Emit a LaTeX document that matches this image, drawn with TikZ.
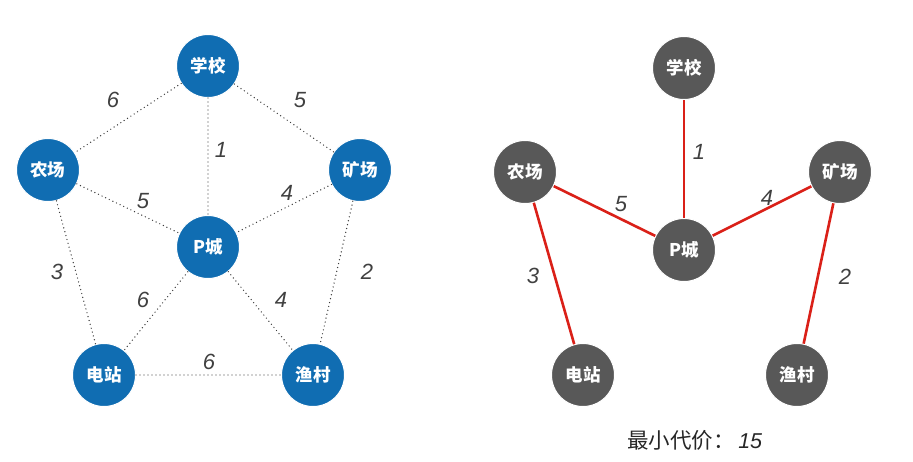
\documentclass[tikz,border=0pt]{standalone}
\usepackage{fontspec}
\setmainfont{Liberation Sans}
\newfontfamily\cjk{Noto Sans CJK SC}
\definecolor{nblue}{RGB}{16,109,178}
\definecolor{ngray}{RGB}{88,88,88}
\definecolor{ered}{RGB}{218,32,24}
\definecolor{edot}{RGB}{60,60,60}
\begin{document}
\begin{tikzpicture}[x=1pt,y=-1pt,
  bnode/.style={circle,fill=nblue,draw=white,line width=1pt,minimum size=63pt,inner sep=0pt,text=white,font=\cjk\bfseries\fontsize{17.5}{17.5}\selectfont},
  gnode/.style={circle,fill=ngray,draw=white,line width=1pt,minimum size=63pt,inner sep=0pt,text=white,font=\cjk\bfseries\fontsize{17.5}{17.5}\selectfont},
  dotedge/.style={draw=edot,line width=1.4pt,line cap=round,dash pattern=on 0pt off 4pt},
  redge/.style={draw=ered,line width=2.6pt},
  wlabel/.style={font=\itshape\fontsize{22}{22}\selectfont,text=black!75}]
\useasboundingbox (0,0) rectangle (913,461);
% left graph nodes
\node[bnode] (s) at (208,66) {学校};
\node[bnode] (f) at (48,170) {农场};
\node[bnode] (m) at (360,170) {矿场};
\node[bnode] (p) at (208,247) {P城};
\node[bnode] (d) at (104,375) {电站};
\node[bnode] (y) at (313,375) {渔村};
% left edges
\draw[dotedge] (s) -- (f);
\draw[dotedge] (s) -- (m);
\draw[dotedge] (s) -- (p);
\draw[dotedge] (f) -- (p);
\draw[dotedge] (m) -- (p);
\draw[dotedge] (f) -- (d);
\draw[dotedge] (m) -- (y);
\draw[dotedge] (p) -- (d);
\draw[dotedge] (p) -- (y);
\draw[dotedge] (d) -- (y);
% left labels
\node[wlabel] (l1) at (113,100) {6};
\node[wlabel] (l2) at (300,100) {5};
\node[wlabel] (l3) at (221,150) {1};
\node[wlabel] (l4) at (143,201) {5};
\node[wlabel] (l5) at (287,193) {4};
\node[wlabel] (l6) at (57,272) {3};
\node[wlabel] (l7) at (367,272) {2};
\node[wlabel] (l8) at (143,300) {6};
\node[wlabel] (l9) at (281,300) {4};
\node[wlabel] (l10) at (209,362) {6};
% right graph nodes
\node[gnode] (S) at (684,68) {学校};
\node[gnode] (F) at (525,172) {农场};
\node[gnode] (M) at (840,172) {矿场};
\node[gnode] (P) at (684,250) {P城};
\node[gnode] (D) at (583,375) {电站};
\node[gnode] (Y) at (797,375) {渔村};
\draw[redge] (S) -- (P);
\draw[redge] (F) -- (P);
\draw[redge] (M) -- (P);
\draw[redge] (F) -- (D);
\draw[redge] (M) -- (Y);
\node[wlabel] (r1) at (699,152) {1};
\node[wlabel] (r2) at (621,204) {5};
\node[wlabel] (r3) at (767,198) {4};
\node[wlabel] (r4) at (533,276) {3};
\node[wlabel] (r5) at (845,277) {2};
\node[anchor=west,text=black!85,inner sep=0pt] (cost) at (627,440) {\cjk\fontsize{21.5}{21.5}\selectfont 最小代价：\,{\fontspec{Liberation Sans}\itshape 15}};
\end{tikzpicture}
\end{document}
